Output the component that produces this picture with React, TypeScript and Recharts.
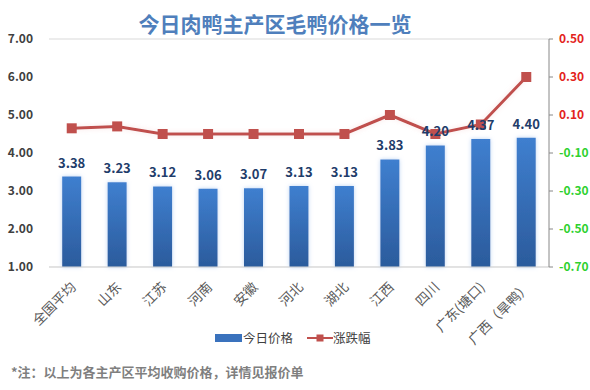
import React from 'react';
import { ComposedChart, Bar, Line, XAxis, YAxis, CartesianGrid, LabelList } from 'recharts';

const categories = ['全国平均', '山东', '江苏', '河南', '安徽', '河北', '湖北', '江西', '四川', '广东(塘口)', '广西（旱鸭）'];
const prices = [3.38, 3.23, 3.12, 3.06, 3.07, 3.13, 3.13, 3.83, 4.2, 4.37, 4.4];
const changes = [0.03, 0.04, 0.0, 0.0, 0.0, 0.0, 0.0, 0.1, 0.0, 0.05, 0.3];
const leftTicks = [1, 2, 3, 4, 5, 6, 7];
const rightTicks = [-0.7, -0.5, -0.3, -0.1, 0.1, 0.3, 0.5];

const data = categories.map((c, i) => ({ name: c, price: prices[i], change: changes[i] }));

const FONT = '"Noto Sans CJK SC", "Noto Sans", sans-serif';

const XTick = (props: any) => {
  const { x, y, payload } = props;
  return (
    <text
      x={x + 5}
      y={y + 13}
      transform={`rotate(-45 ${x + 5} ${y + 13})`}
      textAnchor="end"
      fontSize={13.5}
      fill="#595959"
      fontFamily={FONT}
    >
      {payload.value}
    </text>
  );
};

const LeftTick = (props: any) => {
  const { x, y, payload } = props;
  return (
    <text x={x} y={y} dy={4} textAnchor="end" fontSize={12} fontWeight="bold" fill="#404040" fontFamily={FONT}>
      {Number(payload.value).toFixed(2)}
    </text>
  );
};

const RightTick = (props: any) => {
  const { x, y, payload } = props;
  const v = Number(payload.value);
  return (
    <text x={x} y={y} dy={4} textAnchor="start" fontSize={12} fontWeight="bold" fill={v > 0 ? '#e3231c' : '#2fd12f'} fontFamily={FONT}>
      {v.toFixed(2)}
    </text>
  );
};

const SquareDot = (props: any) => {
  const { cx, cy } = props;
  if (cx == null || cy == null) return null;
  return <rect x={cx - 5} y={cy - 5} width={10} height={10} fill="#c0504d" />;
};

export default function App() {
  return (
    <div style={{ position: 'absolute', left: 0, top: 0, width: 590, height: 390, background: '#fff', fontFamily: FONT }}>
      <div
        style={{
          position: 'absolute',
          left: 0,
          width: 550,
          top: 8,
          textAlign: 'center',
          fontSize: 21,
          fontWeight: 'bold',
          color: '#4f7fbc',
          lineHeight: '30px',
        }}
      >
        今日肉鸭主产区毛鸭价格一览
      </div>
      <ComposedChart
        width={590}
        height={390}
        data={data}
        margin={{ top: 39, right: 0, left: 0, bottom: 63 }}
        barCategoryGap="29%"
      >
        <defs>
          <linearGradient id="barGrad" x1="0" y1="0" x2="0" y2="1">
            <stop offset="0%" stopColor="#3f7fcf" />
            <stop offset="100%" stopColor="#2b5b9c" />
          </linearGradient>
          <filter id="glow" x="-50%" y="-20%" width="200%" height="140%">
            <feGaussianBlur in="SourceAlpha" stdDeviation="2" result="b" />
            <feFlood floodColor="#9dc0ee" floodOpacity="0.7" />
            <feComposite in2="b" operator="in" />
            <feMerge>
              <feMergeNode />
              <feMergeNode in="SourceGraphic" />
            </feMerge>
          </filter>
          <filter id="lineGlow" x="-10%" y="-50%" width="120%" height="200%">
            <feGaussianBlur in="SourceGraphic" stdDeviation="2.5" result="b" />
            <feColorMatrix in="b" type="matrix" values="0 0 0 0 0.9  0 0 0 0 0.6  0 0 0 0 0.6  0 0 0 0.5 0" result="c" />
            <feMerge>
              <feMergeNode in="c" />
              <feMergeNode in="SourceGraphic" />
            </feMerge>
          </filter>
        </defs>
        <CartesianGrid vertical={false} stroke="#d9d9d9" />
        <XAxis
          dataKey="name"
          interval={0}
          height={60}
          tick={<XTick />}
          tickLine={false}
          axisLine={{ stroke: '#d9d9d9' }}
        />
        <YAxis
          yAxisId="left"
          domain={[1, 7]}
          ticks={leftTicks}
          width={49}
          tick={<LeftTick />}
          tickLine={false}
          axisLine={false}
          tickMargin={10}
        />
        <YAxis
          yAxisId="right"
          orientation="right"
          domain={[-0.7, 0.5]}
          ticks={rightTicks}
          width={41}
          tick={<RightTick />}
          tickLine={{ stroke: '#888' }}
          tickSize={4}
          tickMargin={6}
          axisLine={{ stroke: '#888' }}
        />
        <Bar yAxisId="left" dataKey="price" fill="url(#barGrad)" isAnimationActive={false} style={{ filter: 'url(#glow)' }}>
          <LabelList
            dataKey="price"
            position="top"
            offset={9}
            formatter={(v: any) => Number(v).toFixed(2)}
            style={{ fontSize: 13, fontWeight: 'bold', fill: '#1f3d6b', fontFamily: FONT }}
          />
        </Bar>
        <Line
          yAxisId="right"
          dataKey="change"
          stroke="#c0504d"
          strokeWidth={3}
          dot={<SquareDot />}
          activeDot={false}
          isAnimationActive={false}
          style={{ filter: 'url(#lineGlow)' }}
        />
      </ComposedChart>
      <div style={{ position: 'absolute', top: 329, left: 215, display: 'flex', alignItems: 'center', fontSize: 12.5, color: '#404040', lineHeight: '18px' }}>
        <div style={{ display: 'flex', alignItems: 'center' }}>
          <span style={{ display: 'inline-block', width: 27, height: 8, background: '#3a72bd', marginRight: 1 }} />
          <span>今日价格</span>
        </div>
        <div style={{ display: 'flex', alignItems: 'center', marginLeft: 14 }}>
          <svg width={26} height={10}>
            <line x1={0} y1={5} x2={26} y2={5} stroke="#c0504d" strokeWidth={2} />
            <rect x={9.5} y={1.5} width={7} height={7} fill="#c0504d" />
          </svg>
          <span style={{ marginLeft: 0 }}>涨跌幅</span>
        </div>
      </div>
      <div style={{ position: 'absolute', top: 362, left: 11, fontSize: 13, fontWeight: 'bold', color: '#7f7f7f', lineHeight: '20px' }}>
        *注：以上为各主产区平均收购价格，详情见报价单
      </div>
    </div>
  );
}
